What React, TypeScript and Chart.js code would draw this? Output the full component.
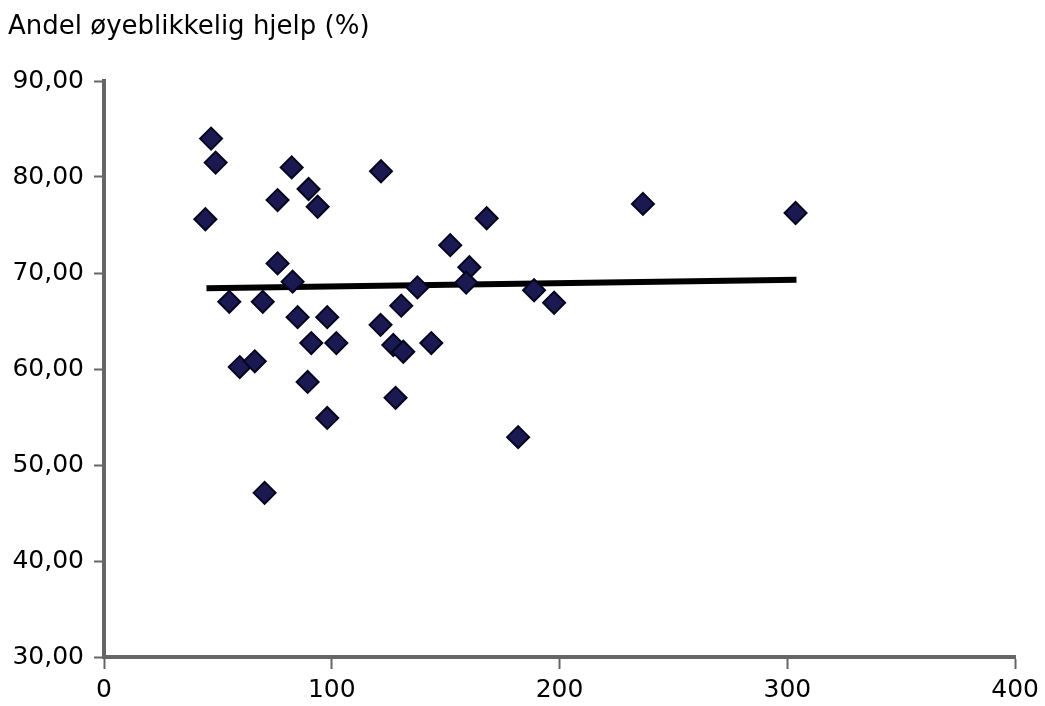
import React, { useEffect, useRef } from "react";
import { Chart, registerables } from "chart.js";

Chart.register(...registerables);

const titleText = "Andel øyeblikkelig hjelp (%)";

const xValues = [
  47, 49, 44.5, 55, 59.6, 66.2, 70.5, 69.7, 76.2, 76.2, 82.4, 82.8, 85, 89.8, 93.8,
  91, 89.4, 98, 102, 98, 121.6, 121.4, 127, 131.4, 128, 130.5, 137.6, 143.7, 152,
  160.4, 159, 168, 181.8, 188.8, 197.6, 236.6, 303.6,
];
const yValues = [
  84.0, 81.5, 75.6, 67.0, 60.2, 60.8, 47.1, 67.0, 71.0, 77.6, 81.0, 69.1, 65.4, 78.75, 76.9,
  62.7, 58.65, 65.4, 62.7, 54.9, 80.6, 64.6, 62.5, 61.8, 57.0, 66.6, 68.5, 62.7, 72.9,
  70.6, 69.0, 75.7, 52.9, 68.2, 66.9, 77.2, 76.25,
];

const trendX = [45, 304];
const trendY = [68.4, 69.3];

const xTicks = [0, 100, 200, 300, 400];
const yTicks = [30, 40, 50, 60, 70, 80, 90];

const FONT = "'DejaVu Sans', sans-serif";

export default function App() {
  const ref = useRef<HTMLCanvasElement>(null);

  useEffect(() => {
    if (!ref.current) return;
    const points = xValues.map((x, i) => ({ x, y: yValues[i] }));
    const trend = trendX.map((x, i) => ({ x, y: trendY[i] }));

    const titlePlugin = {
      id: "topTitle",
      afterDraw(chart: any) {
        const ctx = chart.ctx;
        ctx.save();
        ctx.font = `26px ${FONT}`;
        ctx.fillStyle = "#000";
        ctx.textAlign = "left";
        ctx.textBaseline = "alphabetic";
        ctx.fillText(titleText, 8, 34);
        ctx.restore();
      },
    };

    const chart = new Chart(ref.current, {
      type: "scatter",
      data: {
        datasets: [
          {
            type: "line",
            data: trend,
            borderColor: "#000000",
            borderWidth: 6,
            pointRadius: 0,
            fill: false,
            order: 2,
          } as any,
          {
            data: points,
            pointStyle: "rectRot",
            pointRadius: 11,
            pointHoverRadius: 11,
            backgroundColor: "#1b1952",
            borderColor: "#06061e",
            borderWidth: 2,
            order: 1,
          },
        ],
      },
      options: {
        animation: false,
        responsive: true,
        maintainAspectRatio: false,
        layout: { padding: { top: 81, left: 0, right: 28, bottom: 0 } },
        plugins: {
          legend: { display: false },
          tooltip: { enabled: false },
          title: { display: false },
        },
        scales: {
          x: {
            type: "linear",
            min: 0,
            max: 400,
            afterBuildTicks: (scale: any) => {
              scale.ticks = xTicks.map((v) => ({ value: v }));
            },
            afterFit: (scale: any) => {
              scale.height = 49;
            },
            ticks: {
              font: { family: FONT, size: 25 },
              color: "#000",
              padding: 6,
              maxRotation: 0,
            },
            grid: {
              drawOnChartArea: false,
              drawTicks: true,
              tickLength: 12,
              tickColor: "#666",
              tickWidth: 2,
            },
            border: { display: true, color: "#666", width: 4 },
          },
          y: {
            type: "linear",
            min: 30,
            max: 90,
            afterBuildTicks: (scale: any) => {
              scale.ticks = yTicks.map((v) => ({ value: v }));
            },
            afterFit: (scale: any) => {
              scale.width = 104;
            },
            ticks: {
              font: { family: FONT, size: 25 },
              color: "#000",
              padding: 10,
              callback: (v: any) => Number(v).toFixed(2).replace(".", ","),
            },
            grid: {
              drawOnChartArea: false,
              drawTicks: true,
              tickLength: 10,
              tickColor: "#666",
              tickWidth: 2,
            },
            border: { display: true, color: "#666", width: 4 },
          },
        },
      },
      plugins: [titlePlugin],
    });
    return () => chart.destroy();
  }, []);

  return (
    <div style={{ position: "absolute", left: 0, top: 0, width: 1045, height: 706, background: "#fff" }}>
      <canvas ref={ref} />
    </div>
  );
}
